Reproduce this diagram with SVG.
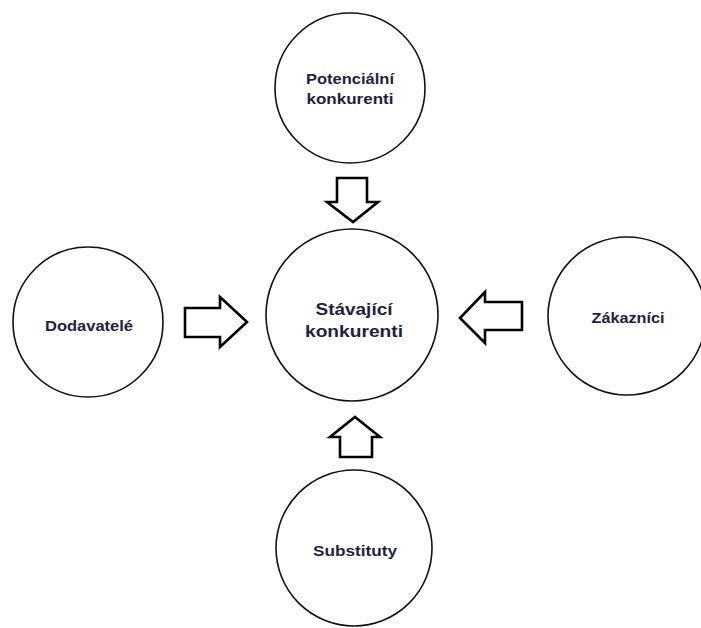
<svg xmlns="http://www.w3.org/2000/svg" width="701" height="628" viewBox="0 0 701 628">
<style>
.node circle{fill:#fff;stroke:#111;stroke-width:1.6}
.node text{font-family:"Liberation Sans",Arial,sans-serif;font-weight:bold;font-size:15px;fill:#1c2340;text-anchor:middle}
.node text.big{font-size:17px}
.arrow{fill:#fff;stroke:#000;stroke-width:2.6;stroke-linejoin:miter}
</style>
<rect width="701" height="628" fill="#fff"/>
<g id="potencialni" class="node">
<circle cx="350" cy="88" r="75"/>
<text x="350" y="84" textLength="88" lengthAdjust="spacingAndGlyphs">Potenciální</text>
<text x="350" y="104" textLength="87" lengthAdjust="spacingAndGlyphs">konkurenti</text>
</g>
<g id="stavajici" class="node">
<circle cx="352" cy="315" r="86"/>
<text class="big" x="354" y="315" textLength="77" lengthAdjust="spacingAndGlyphs">Stávající</text>
<text class="big" x="354" y="337" textLength="98" lengthAdjust="spacingAndGlyphs">konkurenti</text>
</g>
<g id="dodavatele" class="node">
<circle cx="88" cy="322" r="75"/>
<text x="89" y="331" textLength="88" lengthAdjust="spacingAndGlyphs">Dodavatelé</text>
</g>
<g id="zakaznici" class="node">
<circle cx="627" cy="316" r="79"/>
<text x="628" y="323" textLength="73" lengthAdjust="spacingAndGlyphs">Zákazníci</text>
</g>
<g id="substituty" class="node">
<circle cx="354" cy="548" r="78"/>
<text x="355" y="556" textLength="84" lengthAdjust="spacingAndGlyphs">Substituty</text>
</g>
<g id="connectors">
<polygon class="arrow" points="337,178 367,178 367,202 378,202 353,222 327,202 337,202"/>
<polygon class="arrow" points="185,308 220,308 220,297 247,322 220,347 220,337 185,337"/>
<polygon class="arrow" points="522,302 485,302 485,292 460,318 485,343 485,330 522,330"/>
<polygon class="arrow" points="355,417 380,437 372,437 372,457 340,457 340,437 330,437"/>
</g>
</svg>
